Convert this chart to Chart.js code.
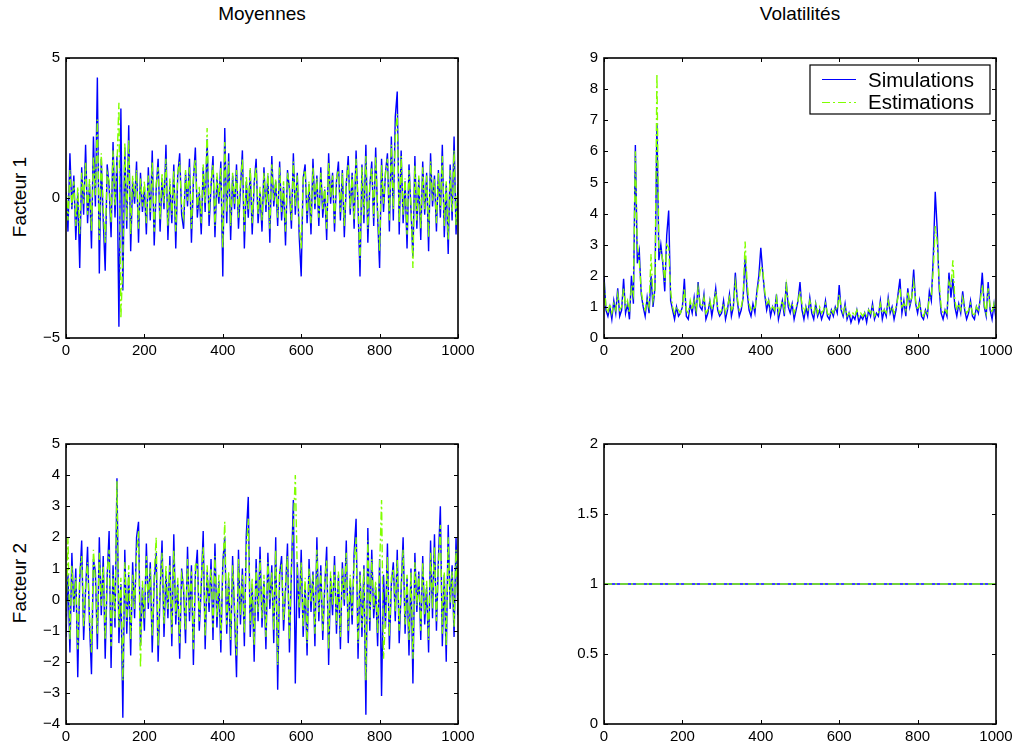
<!DOCTYPE html>
<html>
<head>
<meta charset="utf-8">
<script src="https://cdn.jsdelivr.net/npm/chart.js@4.4.1/dist/chart.umd.min.js"></script>
<style>
  body { margin: 0; background: #fff; width: 1018px; height: 751px; position: relative; overflow: hidden; font-family: "Liberation Sans", Arial, sans-serif; }
  canvas { position: absolute; }
  .title { position: absolute; width: 300px; text-align: center; font-size: 19px; line-height: 20px; color: #000; }
  .ylab { position: absolute; width: 200px; text-align: center; font-size: 19px; line-height: 20px; color: #000; transform: rotate(-90deg); }
</style>
</head>
<body>
<div class="title" style="left:112px; top:4px">Moyennes</div>
<div class="title" style="left:650px; top:4px">Volatilités</div>
<div class="ylab" style="left:-80px; top:187px">Facteur 1</div>
<div class="ylab" style="left:-80px; top:573px">Facteur 2</div>

<canvas id="meanF1" width="474" height="325" style="left:6px; top:43px"></canvas>
<canvas id="volF1" width="474" height="325" style="left:544px; top:43px"></canvas>
<canvas id="meanF2" width="474" height="325" style="left:6px; top:429px"></canvas>
<canvas id="volF2" width="474" height="325" style="left:544px; top:429px"></canvas>

<script>
// --- Data (one value every 5 time steps) ---
const xStep = 5;
const xTicks = [0, 200, 400, 600, 800, 1000];

const meanF1Ticks = [-5, 0, 5];
const volF1Ticks = [0, 1, 2, 3, 4, 5, 6, 7, 8, 9];
const meanF2Ticks = [-4, -3, -2, -1, 0, 1, 2, 3, 4, 5];
const volF2Ticks = [0, 0.5, 1, 1.5, 2];

const meanF1Sim = [
  0.3, -1.2, 1.6, -0.4, 0.8, -1.5, 0.2, -2.5, 1.1, -0.6, 1.9, -0.9, 0.5, -1.8, 2.2, -0.3, 4.3, -2.7, 1.4, -0.8,
  -2.6, 1.2, 0.4, -1.4, 2.0, -0.7, 1.5, -4.6, 3.2, -3.3, 1.8, -1.1, 2.6, -1.9, 0.6, -0.2, 1.3, -1.6, 0.9, -0.5,
  0.4, -1.3, 1.1, -0.8, 1.7, -1.7, 0.3, 1.4, -1.2, 0.7, -0.4, 1.9, -1.5, 0.5, -0.9, 1.2, -1.8, 0.8, 1.6, -0.6,
  -1.1, 0.9, -0.3, 1.4, -1.6, 0.6, 1.8, -0.7, 0.2, -1.3, 1.1, -0.5, 2.1, -1.0, 0.4, 1.5, -1.4, 0.7, -0.2, 1.3,
  -2.8, 2.5, -0.9, 1.6, -1.5, 0.8, -0.4, 1.2, -1.1, 0.3, 1.7, -1.8, 0.6, -0.7, 1.0, -1.3, 0.5, 1.4, -0.9, 0.2,
  -1.2, 1.1, -0.5, 0.8, -1.6, 1.5, -0.3, 0.6, -1.0, 1.3, -0.8, 0.4, -1.7, 1.0, 0.3, -1.1, 1.6, -0.6, 0.9, -1.4,
  -2.8, 0.7, 1.2, -0.9, 0.5, -1.3, 1.4, -0.4, 0.8, -1.0, 1.1, -0.7, 0.3, -1.5, 1.6, -0.2, 0.9, -1.2, 0.6, 1.3,
  -0.8, 1.0, -1.4, 0.5, 1.5, -0.6, 0.9, -1.1, 1.7, -0.3, -2.8, 1.2, -0.9, 1.9, -1.6, 0.4, 1.3, -1.0, 1.8, -0.7,
  -2.5, 1.4, -0.5, 0.9, 1.6, -1.2, 2.2, -0.8, 2.9, 3.8, -1.3, 1.7, -0.9, 0.6, -1.8, 1.2, -0.4, -2.1, 1.5, -1.1,
  0.7, -1.5, 1.3, -0.6, 0.9, -1.9, 1.6, -0.3, 0.8, -1.2, 1.0, -0.7, 1.9, -1.4, 0.5, -2.0, 1.2, -0.8, 2.2, -1.3,
  0.4
];
const meanF1Est = [
  0.5, -0.8, 1.0, -0.3, 0.6, -1.0, 0.4, -1.3, 0.9, -0.2, 1.3, -0.6, 0.7, -1.2, 1.5, 0.1, 2.8, -1.5, 1.6, -0.4,
  -1.6, 0.9, 0.6, -0.9, 1.7, -0.3, 1.2, 3.4, -4.3, -2.2, 2.0, -0.8, 2.1, -1.3, 0.8, 0.0, 1.0, -1.1, 0.7, -0.3,
  0.6, -0.9, 0.8, -0.5, 1.3, -1.2, 0.5, 1.1, -0.8, 0.9, -0.2, 1.4, -1.0, 0.7, -0.6, 1.0, -1.2, 0.9, 1.3, -0.3,
  -0.7, 1.0, -0.1, 1.1, -1.1, 0.8, 1.4, -0.4, 0.4, -0.9, 1.2, -0.2, 2.5, -0.6, 0.6, 1.2, -1.0, 0.9, 0.0, 1.1,
  -1.8, 2.0, -0.5, 1.3, -1.0, 0.9, -0.2, 1.0, -0.7, 0.5, 1.4, -1.2, 0.8, -0.4, 1.1, -0.9, 0.6, 1.1, -0.6, 0.4,
  -0.8, 0.9, -0.3, 0.9, -1.1, 1.2, -0.1, 0.7, -0.7, 1.1, -0.5, 0.6, -1.2, 0.9, 0.4, -0.8, 1.3, -0.3, 0.8, -1.0,
  -1.8, 0.8, 1.0, -0.6, 0.6, -0.9, 1.1, -0.2, 0.7, -0.7, 0.9, -0.4, 0.4, -1.1, 1.3, 0.0, 0.8, -0.9, 0.7, 1.0,
  -0.5, 0.9, -1.0, 0.6, 1.2, -0.4, 0.8, -0.8, 1.4, -0.1, -2.2, 1.1, -0.6, 1.5, -1.1, 0.5, 1.1, -0.7, 1.5, -0.4,
  -1.9, 1.2, -0.2, 0.9, 1.4, -0.8, 1.9, -0.4, 2.2, 3.0, -0.9, 1.5, -0.6, 0.7, -1.3, 1.0, -0.2, -2.5, 1.2, -0.8,
  0.8, -1.1, 1.1, -0.4, 0.8, -1.4, 1.3, -0.1, 0.7, -0.9, 0.9, -0.4, 1.5, -1.0, 0.6, -1.5, 1.0, -0.5, 1.7, -1.0,
  0.5
];

const volF1Sim = [
  2.0, 0.9, 0.7, 1.0, 0.6, 1.2, 0.8, 1.6, 0.7, 0.9, 1.9, 0.8, 1.1, 0.6, 2.0, 1.1, 6.2, 2.4, 2.8, 1.4,
  1.0, 0.7, 1.3, 0.8, 2.0, 1.0, 1.6, 6.9, 2.5, 3.0, 2.4, 1.5, 3.3, 4.1, 1.2, 0.9, 0.6, 1.0, 0.7, 0.8,
  1.0, 1.9, 0.7, 0.6, 1.1, 0.8, 1.3, 0.7, 1.8, 1.0, 0.9, 1.4, 0.6, 0.8, 1.2, 0.7, 1.1, 1.6, 0.9, 0.7,
  0.8, 1.2, 0.6, 0.9, 1.4, 0.7, 1.0, 2.1, 1.2, 0.7, 0.9, 1.3, 2.6, 1.5, 0.9, 0.7, 1.1, 0.8, 1.5, 2.0,
  2.9, 2.1, 1.4, 0.9, 1.2, 0.7, 1.0, 0.8, 1.4, 0.6, 0.9, 1.2, 0.7, 1.8, 1.0, 0.8, 1.1, 0.6, 0.9, 1.2,
  1.8, 0.9, 0.6, 1.0, 0.7, 1.3, 0.8, 0.6, 1.1, 0.7, 0.9, 0.6, 0.8, 1.2, 0.7, 0.6, 0.9, 0.7, 1.0, 0.8,
  1.7, 0.9, 0.7, 1.1, 0.6, 0.8, 0.5, 0.7, 0.6, 0.9, 0.5, 0.7, 0.6, 0.8, 0.5, 0.9, 0.7, 1.1, 0.6, 0.8,
  0.7, 1.2, 0.6, 0.9, 0.7, 1.3, 0.8, 1.0, 0.6, 0.9, 1.4, 1.9, 0.8, 1.2, 0.7, 1.6, 1.0, 1.3, 2.2, 1.1,
  0.8, 1.2, 0.7, 0.6, 0.9, 0.7, 1.5, 1.2, 2.6, 4.7, 3.5, 1.6, 0.8, 0.6, 0.9, 0.7, 2.1, 1.3, 1.9, 1.0,
  0.7, 1.1, 0.8, 1.5, 0.9, 0.6, 0.8, 1.2, 0.7, 0.6, 1.0, 0.8, 1.3, 2.1, 1.0, 0.7, 1.8, 0.9, 0.6, 1.1,
  0.6
];
const volF1Est = [
  1.8, 1.0, 0.8, 1.1, 0.8, 1.1, 0.9, 1.4, 0.9, 1.0, 1.6, 1.0, 1.2, 0.8, 1.7, 1.4, 6.0, 3.0, 2.5, 1.5,
  1.1, 0.9, 1.2, 1.0, 2.7, 1.2, 1.5, 8.5, 2.8, 2.8, 2.5, 1.8, 3.0, 2.9, 1.5, 1.0, 0.8, 1.0, 0.9, 0.8,
  1.0, 1.6, 0.9, 0.8, 1.2, 0.9, 1.2, 0.9, 1.6, 1.1, 1.0, 1.3, 0.8, 0.9, 1.2, 0.9, 1.1, 1.5, 1.0, 0.8,
  0.9, 1.1, 0.8, 1.0, 1.3, 0.9, 1.0, 1.8, 1.3, 0.9, 1.0, 1.3, 3.1, 1.8, 1.1, 0.9, 1.0, 0.9, 1.4, 1.8,
  2.3, 2.2, 1.5, 1.1, 1.2, 0.9, 1.0, 0.9, 1.3, 0.8, 1.0, 1.2, 0.9, 1.7, 1.2, 1.0, 1.1, 0.8, 1.0, 1.2,
  1.5, 1.1, 0.8, 1.0, 0.9, 1.2, 0.9, 0.8, 1.1, 0.8, 1.0, 0.8, 0.9, 1.1, 0.8, 0.7, 0.9, 0.8, 1.0, 0.9,
  1.4, 1.0, 0.8, 1.0, 0.7, 0.8, 0.7, 0.8, 0.7, 0.9, 0.7, 0.8, 0.7, 0.8, 0.7, 0.9, 0.8, 1.0, 0.7, 0.8,
  0.8, 1.1, 0.8, 0.9, 0.8, 1.2, 0.9, 1.0, 0.8, 1.0, 1.3, 1.6, 1.0, 1.1, 0.9, 1.5, 1.1, 1.3, 1.8, 1.2,
  0.9, 1.1, 0.8, 0.7, 0.9, 0.8, 1.3, 1.3, 2.2, 3.6, 3.1, 1.8, 1.0, 0.8, 0.9, 0.8, 1.8, 1.6, 2.5, 1.2,
  0.9, 1.1, 0.9, 1.3, 1.0, 0.8, 0.9, 1.1, 0.8, 0.7, 1.0, 0.9, 1.2, 1.7, 1.1, 0.8, 1.6, 1.0, 0.8, 1.1,
  0.8
];

const meanF2Sim = [
  -1.2, 0.8, -1.7, 1.5, -0.4, 1.0, -2.5, 0.6, 1.9, -1.3, 0.3, 1.7, -0.8, -2.4, 1.3, 0.9, -1.6, 2.0, -0.5, 1.4,
  -1.9, 0.7, 2.2, -2.2, 1.1, -0.9, 3.9, -1.4, 0.5, -3.8, 1.6, -1.1, 0.8, -1.8, 1.2, -0.6, 2.0, 2.5, -1.5, 0.4,
  -1.0, 1.8, -0.3, 1.2, -1.7, 0.6, 1.5, -2.0, 0.2, 1.9, -1.2, 0.9, -0.6, 1.4, -1.5, 2.1, -0.8, 0.5, -1.9, 1.0,
  0.3, -1.4, 1.7, -0.7, 1.1, -2.1, 0.8, 1.6, -1.0, 0.4, 2.2, -1.6, 0.9, -0.4, 1.3, -1.3, 1.8, -0.9, 0.6, -1.7,
  1.2, 2.0, -1.1, 0.7, -1.8, 1.4, -0.5, -2.5, 1.6, -0.8, 1.0, -1.5, 2.1, 3.3, -1.2, 0.5, -2.0, 1.3, -0.7, 1.7,
  -0.9, 0.6, -1.6, 1.5, -0.3, 1.1, -1.4, 2.0, -2.9, 0.8, 1.4, -1.0, 0.3, 1.8, -1.7, 0.9, 3.2, -2.7, 1.2, -0.6,
  1.6, -1.2, 0.5, -1.8, 1.3, -0.4, 0.9, -1.5, 2.0, -0.7, 1.1, -1.3, 0.4, 1.7, -2.1, 0.7, -0.5, 1.4, -1.1, 0.8,
  -1.6, 1.2, -0.2, 1.9, -1.4, 0.6, -0.8, 1.5, 2.6, -1.9, 0.9, -1.2, 1.1, -3.7, 2.3, -1.0, 1.6, -0.6, 0.4, -1.5,
  1.3, -3.1, 0.8, -0.9, 1.8, -1.6, 0.5, 1.2, -0.7, 1.6, -1.4, 0.3, 2.0, -1.1, 0.7, -1.8, 1.0, -2.7, 1.5, -0.4,
  0.9, -1.3, 1.4, -0.8, 0.4, -1.7, 1.9, -0.6, 2.1, -1.0, 1.3, 3.0, -1.5, 0.8, -2.0, 2.4, -0.3, 1.1, -1.2, 2.0,
  -0.5
];
const meanF2Est = [
  -0.8, 2.0, -1.3, 1.1, -0.2, 0.7, -1.6, 0.9, 1.4, -0.9, 0.5, 1.2, -0.5, -1.7, 1.6, 0.6, -1.1, 1.5, -0.2, 1.1,
  -1.3, 0.9, 1.6, -1.5, 0.8, -0.6, 3.8, -0.9, 0.7, -2.6, 1.2, -0.7, 1.1, -1.3, 0.8, -0.3, 1.5, 2.2, -2.2, 0.6,
  -0.6, 1.4, -0.1, 1.0, -1.2, 0.8, 2.0, -1.5, 0.4, 1.5, -0.8, 1.1, -0.3, 1.1, -1.1, 1.6, -0.5, 0.7, -1.4, 0.8,
  0.5, -1.0, 1.3, -0.4, 0.9, -1.6, 1.1, 1.2, -0.7, 0.6, 1.7, -1.2, 1.1, -0.1, 1.0, -0.9, 1.4, -0.6, 0.8, -1.3,
  0.9, 2.5, -0.8, 0.9, -1.3, 1.1, -0.2, -1.8, 1.3, -0.5, 0.8, -1.1, 1.6, 2.6, -0.8, 0.7, -1.5, 1.0, -0.4, 1.3,
  -0.6, 0.8, -1.2, 1.2, 0.0, 0.9, -1.0, 1.6, -2.1, 1.0, 1.1, -0.7, 0.5, 1.4, -1.3, 1.0, 2.4, 4.0, 0.9, -0.3,
  1.2, -0.9, 0.7, -1.4, 1.0, -0.1, 0.8, -1.1, 1.6, -0.4, 0.9, -1.0, 0.6, 1.3, -1.6, 0.9, -0.2, 1.1, -0.8, 0.9,
  -1.2, 1.0, 0.0, 1.5, -1.0, 0.8, -0.5, 1.2, 2.0, -1.4, 0.8, -0.9, 1.0, -2.6, 1.9, -0.7, 1.3, -0.3, 0.6, -1.1,
  1.0, 3.2, -1.9, -0.6, 1.4, -1.2, 0.7, 1.0, -0.4, 1.3, -1.0, 0.5, 1.6, -0.8, 0.8, -1.3, 0.9, -1.9, 1.2, -0.2,
  0.8, -1.0, 1.2, -0.5, 0.6, -1.3, 1.5, -0.3, 1.7, -0.7, 1.1, 2.4, -1.1, 0.9, -1.5, 2.0, -0.1, 0.9, -0.9, 1.6,
  -0.3
];

// second factor has a constant volatility
const volF2X = [0, 1000];
const volF2Sim = [1, 1];
const volF2Est = [1, 1];

// --- Helpers ---
const simColor = '#0000ff';
const estColor = '#80ff00';
const fontFamily = '"Liberation Sans", Arial, Helvetica, sans-serif';

const stepped = vals => vals.map((v, i) => ({ x: i * xStep, y: v }));
const paired = (xs, vals) => vals.map((v, i) => ({ x: xs[i], y: v }));
const minusSign = v => String(v).replace('-', '\u2212');

// draws the MATLAB style box with inward tick marks
const framePlugin = {
  id: 'frame',
  afterDraw(chart) {
    const { ctx, chartArea: a, scales: { x, y } } = chart;
    const len = 4;
    ctx.save();
    ctx.strokeStyle = '#000';
    ctx.lineWidth = 1;
    ctx.beginPath();
    x.ticks.forEach(t => {
      const px = Math.round(x.getPixelForValue(t.value)) + 0.5;
      ctx.moveTo(px, a.bottom); ctx.lineTo(px, a.bottom - len);
      ctx.moveTo(px, a.top); ctx.lineTo(px, a.top + len);
    });
    y.ticks.forEach(t => {
      const py = Math.round(y.getPixelForValue(t.value)) + 0.5;
      ctx.moveTo(a.left, py); ctx.lineTo(a.left + len, py);
      ctx.moveTo(a.right, py); ctx.lineTo(a.right - len, py);
    });
    ctx.stroke();
    ctx.lineWidth = 1.6;
    ctx.strokeRect(a.left, a.top, a.right - a.left, a.bottom - a.top);
    ctx.restore();
  }
};

// legend box in the top right corner of the volatility chart
const legendPlugin = {
  id: 'boxLegend',
  afterDraw(chart) {
    const { ctx, chartArea: a } = chart;
    const left = a.right - 186, top = a.top + 7, w = 180, h = 49;
    ctx.save();
    ctx.fillStyle = '#fff';
    ctx.fillRect(left, top, w, h);
    ctx.strokeStyle = '#000';
    ctx.lineWidth = 1.2;
    ctx.strokeRect(left, top, w, h);
    ctx.lineWidth = 1;
    ctx.strokeStyle = simColor;
    ctx.beginPath(); ctx.moveTo(left + 12, top + 14.5); ctx.lineTo(left + 46, top + 14.5); ctx.stroke();
    ctx.strokeStyle = estColor;
    ctx.setLineDash([8, 3, 2, 3]);
    ctx.beginPath(); ctx.moveTo(left + 12, top + 37.5); ctx.lineTo(left + 46, top + 37.5); ctx.stroke();
    ctx.setLineDash([]);
    ctx.fillStyle = '#000';
    ctx.font = '20.5px ' + fontFamily;
    ctx.textBaseline = 'alphabetic';
    ctx.fillText('Simulations', left + 58, top + 22);
    ctx.fillText('Estimations', left + 58, top + 44);
    ctx.restore();
  }
};

const makeChart = (id, sim, est, yMin, yMax, yTicks, extraPlugins) => {
  const tickFont = { family: fontFamily, size: 15 };
  return new Chart(document.getElementById(id), {
    type: 'line',
    data: {
      datasets: [
        { label: 'Simulations', data: sim, borderColor: simColor, borderWidth: 1.4, pointRadius: 0, tension: 0, order: 1 },
        { label: 'Estimations', data: est, borderColor: estColor, borderWidth: 1.4, borderDash: [8, 3, 2, 3], pointRadius: 0, tension: 0, order: 0 }
      ]
    },
    options: {
      responsive: false,
      animation: false,
      events: [],
      layout: { padding: { top: 6, right: 22, left: 0, bottom: 0 } },
      plugins: { legend: { display: false }, tooltip: { enabled: false } },
      scales: {
        x: {
          type: 'linear', min: 0, max: 1000,
          grid: { display: false, drawTicks: false }, border: { display: false },
          afterBuildTicks: s => { s.ticks = xTicks.map(v => ({ value: v })); },
          afterFit: s => { s.height = 30; },
          ticks: { color: '#000', font: tickFont, padding: 4, autoSkip: false, maxRotation: 0, callback: v => minusSign(v) }
        },
        y: {
          type: 'linear', min: yMin, max: yMax,
          grid: { display: false, drawTicks: false }, border: { display: false },
          afterBuildTicks: s => { s.ticks = yTicks.map(v => ({ value: v })); },
          afterFit: s => { s.width = 60; },
          ticks: { color: '#000', font: tickFont, padding: 6, autoSkip: false, callback: v => minusSign(v) }
        }
      }
    },
    plugins: [framePlugin].concat(extraPlugins || [])
  });
};

makeChart('meanF1', stepped(meanF1Sim), stepped(meanF1Est), -5, 5, meanF1Ticks);
makeChart('volF1', stepped(volF1Sim), stepped(volF1Est), 0, 9, volF1Ticks, [legendPlugin]);
makeChart('meanF2', stepped(meanF2Sim), stepped(meanF2Est), -4, 5, meanF2Ticks);
makeChart('volF2', paired(volF2X, volF2Sim), paired(volF2X, volF2Est), 0, 2, volF2Ticks);
</script>
</body>
</html>
